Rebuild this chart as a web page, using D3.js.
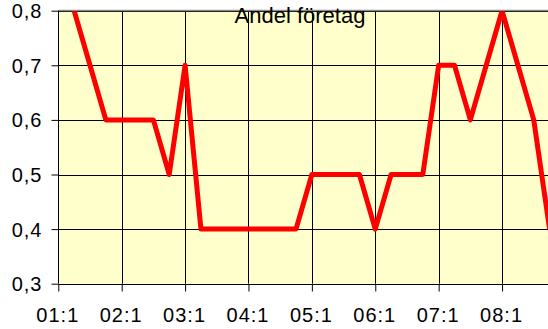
<!DOCTYPE html>
<html>
<head>
<meta charset="utf-8">
<script src="https://cdn.jsdelivr.net/npm/d3@7"></script>
<style>
  html, body { margin: 0; padding: 0; background: #ffffff; }
  svg { display: block; }
  text { font-family: "Liberation Sans", Arial, sans-serif; fill: #000; }
</style>
</head>
<body>
<svg id="chart" width="548" height="329"></svg>
<script>
// Quarterly categories 01:1 ... 08:4
const years = ["01", "02", "03", "04", "05", "06", "07", "08"];
const quarters = ["1", "2", "3", "4"];
const categories = years.flatMap(y => quarters.map(q => `${y}:${q}`));

// Andel företag per quarter
const andel = [
  0.9, 0.8, 0.7, 0.6,
  0.6, 0.6, 0.6, 0.5,
  0.7, 0.4, 0.4, 0.4,
  0.4, 0.4, 0.4, 0.4,
  0.5, 0.5, 0.5, 0.5,
  0.4, 0.5, 0.5, 0.5,
  0.7, 0.7, 0.6, 0.7,
  0.8, 0.7, 0.6, 0.4
];

const yTicks = [0.3, 0.4, 0.5, 0.6, 0.7, 0.8];
const xTickLabels = years.map(y => `${y}:1`);
const title = "Andel företag";

const svg = d3.select("#chart");
const plot = { left: 58.3, top: 10.7, bottom: 283.7, right: 549.6 };

const x = d3.scalePoint().domain(categories).range([plot.left, plot.right]);
const y = d3.scaleLinear().domain([0.3, 0.8]).range([plot.bottom, plot.top]);

const sv = d3.formatLocale({ decimal: ",", thousands: " ", grouping: [3], currency: ["", " kr"] });
const fmt = sv.format(".1f");

// plot background
svg.append("rect")
  .attr("x", plot.left).attr("y", plot.top)
  .attr("width", plot.right + 20 - plot.left).attr("height", plot.bottom - plot.top)
  .attr("fill", "#ffffcc");

// horizontal gridlines
svg.append("g")
  .selectAll("line").data(yTicks.slice(1)).join("line")
  .attr("x1", plot.left).attr("x2", 548)
  .attr("y1", d => Math.round(y(d)) + 0.5).attr("y2", d => Math.round(y(d)) + 0.5)
  .attr("stroke", "#000").attr("stroke-width", 1);

// vertical gridlines at each year's first quarter
svg.append("g")
  .selectAll("line").data(xTickLabels.slice(1)).join("line")
  .attr("x1", d => Math.round(x(d)) + 0.5).attr("x2", d => Math.round(x(d)) + 0.5)
  .attr("y1", plot.top).attr("y2", plot.bottom)
  .attr("stroke", "#000").attr("stroke-width", 1);

// top border
svg.append("line")
  .attr("x1", plot.left).attr("x2", 548)
  .attr("y1", 10.5).attr("y2", 10.5)
  .attr("stroke", "#8c8c8c").attr("stroke-width", 1.5);

// y axis
const yAxis = d3.axisLeft(y).tickValues(yTicks).tickSize(7).tickPadding(9).tickFormat(fmt);
const gy = svg.append("g").attr("transform", `translate(${Math.round(plot.left) + 0.5},0)`).call(yAxis);
gy.select(".domain").remove();
gy.selectAll(".tick line").attr("stroke", "#000");
gy.selectAll(".tick text").style("font-size", "20px").attr("dy", "0.35em").style("letter-spacing", "1px");
gy.append("line").attr("x1", 0).attr("x2", 0).attr("y1", plot.top).attr("y2", plot.bottom).attr("stroke", "#000");

// x axis
const xAxis = d3.axisBottom(x).tickValues(xTickLabels).tickSize(7).tickPadding(16);
const gx = svg.append("g").attr("transform", `translate(0,${Math.round(plot.bottom) + 0.5})`).call(xAxis);
gx.select(".domain").remove();
gx.selectAll(".tick line").attr("stroke", "#000");
gx.selectAll(".tick text").style("font-size", "20px").attr("dx", "-1").style("letter-spacing", "1px");
gx.append("line").attr("x1", plot.left).attr("x2", 548).attr("y1", 0).attr("y2", 0).attr("stroke", "#000");

// data line, clipped to the plot area
svg.append("clipPath").attr("id", "plotclip")
  .append("rect").attr("x", plot.left).attr("y", plot.top + 0.5)
  .attr("width", 600).attr("height", plot.bottom - plot.top);

const line = d3.line().x((d, i) => x(categories[i])).y(d => y(d));
svg.append("path")
  .datum(andel)
  .attr("clip-path", "url(#plotclip)")
  .attr("d", line)
  .attr("fill", "none")
  .attr("stroke", "#ff0000")
  .attr("stroke-width", 5)
  .attr("stroke-linejoin", "round");

// title
svg.append("text")
  .attr("x", 300).attr("y", 23)
  .attr("text-anchor", "middle")
  .style("font-size", "22px")
  .text(title);
</script>
</body>
</html>
